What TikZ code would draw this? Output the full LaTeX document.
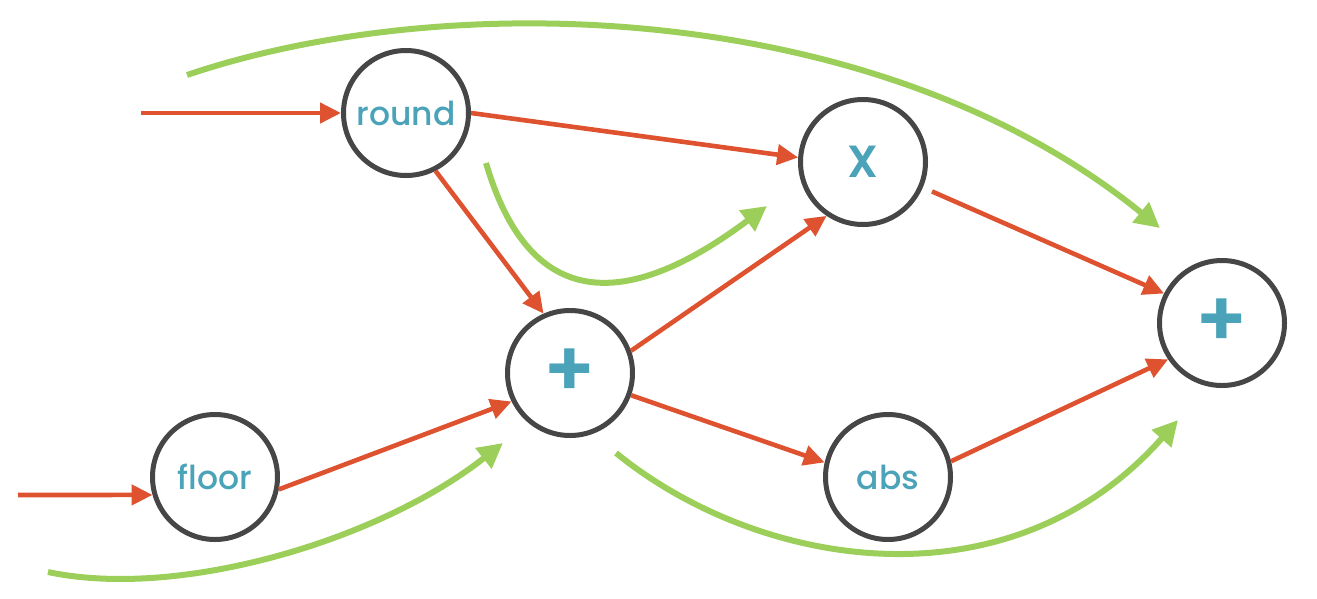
\documentclass[tikz,border=0pt]{standalone}
\usepackage{fontspec}
\setmainfont{Poppins Medium}
\newfontfamily\plusfont{Poppins SemiBold}
\usetikzlibrary{arrows.meta}
\definecolor{redarr}{RGB}{222,82,48}
\definecolor{greenarr}{RGB}{156,207,90}
\definecolor{ring}{RGB}{70,70,70}
\definecolor{teal}{RGB}{74,163,184}
\tikzset{
  op/.style={circle, draw=ring, line width=5pt, minimum size=125pt, inner sep=0pt, fill=white,
    text=teal, font=\fontsize{33}{33}\selectfont},
  bigop/.style={op, font=\fontsize{45}{45}\selectfont\plusfont},
  plusop/.style={op, font=\fontsize{78}{78}\selectfont\plusfont},
  redline/.style={draw=redarr, line width=4.6pt, -{Triangle[length=21pt,width=20pt]}},
  greenline/.style={draw=greenarr, line width=6pt, -{Triangle[length=25pt,width=25pt]}},
}
\begin{document}
\begin{tikzpicture}[x=1pt,y=-1pt]
\useasboundingbox (0,0) rectangle (1317,598);
\node[op] (round) at (406,113) {round};
\node[bigop] (X) at (863,162) {X};
\node[plusop] (plus) at (570,373) {+};
\node[op] (floor) at (215,477) {floor};
\node[op] (abs) at (888,477) {abs};
\node[plusop] (sum) at (1222,323) {+};
% free ends
\coordinate (in1) at (141,113);
\coordinate (in2) at (18,495);
\coordinate (g1s) at (187,75);
\coordinate (g1e) at (1160,228);
\coordinate (g2s) at (486,163);
\coordinate (g2e) at (767,206);
\coordinate (g3s) at (48,572);
\coordinate (g3e) at (503,443);
\coordinate (g4s) at (616,453);
\coordinate (g4e) at (1178,420);
% red connectors
\draw[redline] (in1) -- (round.180);
\draw[redline] (in2) -- (floor.196);
\draw[redline] (round.0) -- (X.176);
\draw[redline] (round.-63) -- (plus.114);
\draw[redline] (floor.-11) -- (plus.206);
\draw[redline] (plus.20) -- (X.236);
\draw[redline] (plus.-20) -- (abs.167);
\draw[redline, shorten <=10pt] (X.-23) -- (sum.153);
\draw[redline] (abs.14) -- (sum.214);
% green connectors
\draw[greenline] (g1s) .. controls (450,-14) and (880,0) .. (g1e);
\draw[greenline] (g2s) .. controls (535,330) and (647,296) .. (g2e);
\draw[greenline] (g3s) .. controls (180,600) and (380,540) .. (g3e);
\draw[greenline] (g4s) .. controls (760,570) and (1010,610) .. (g4e);
\end{tikzpicture}
\end{document}
